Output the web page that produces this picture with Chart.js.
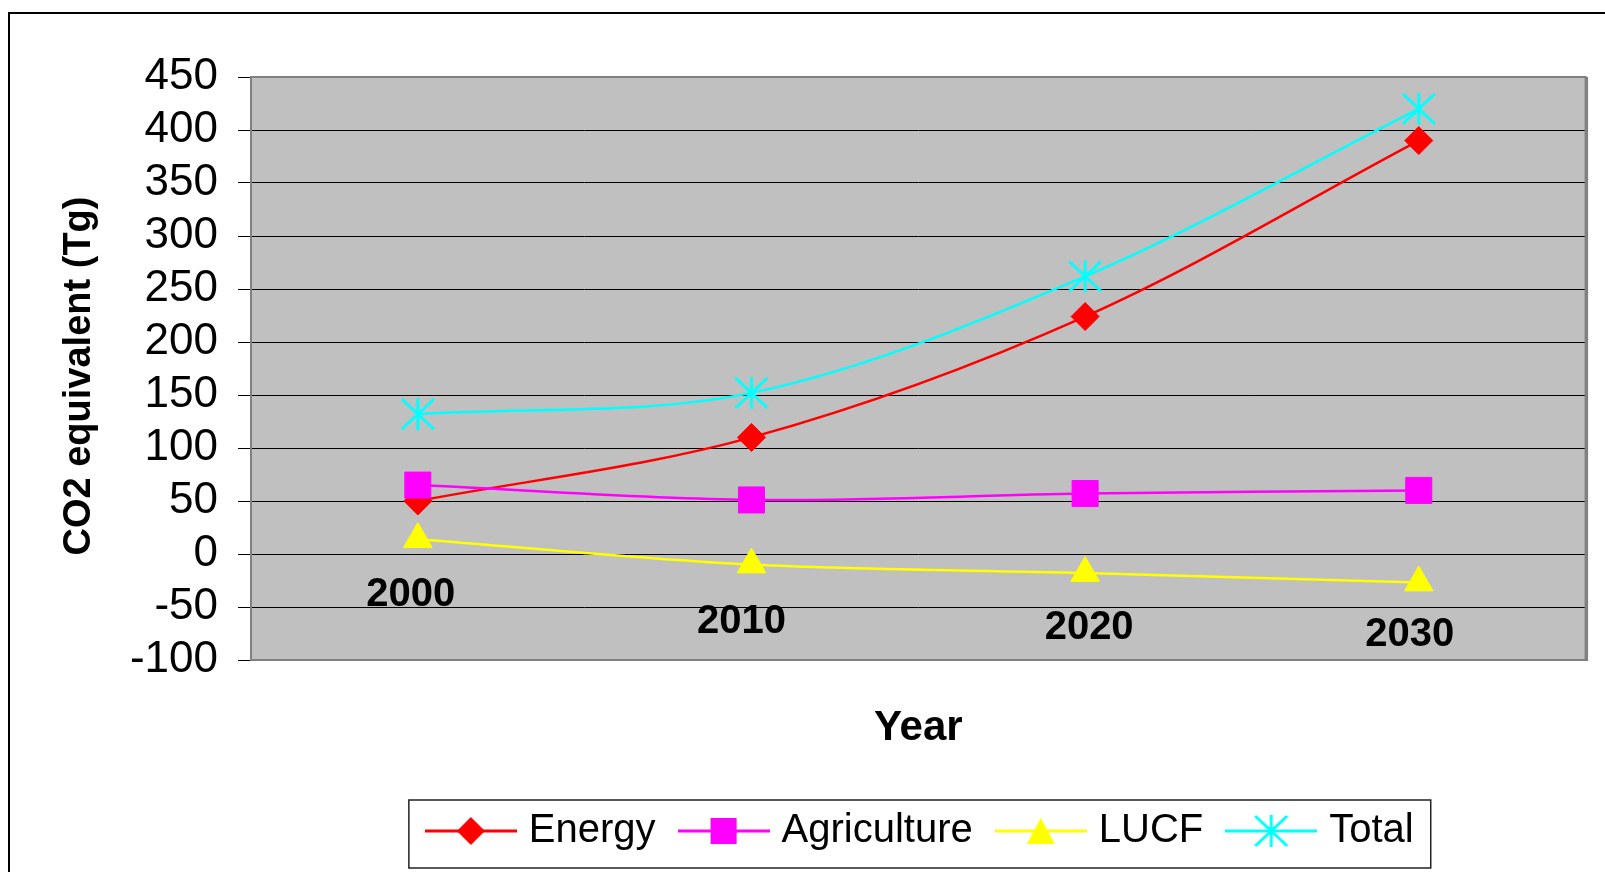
<!DOCTYPE html>
<html>
<head>
<meta charset="utf-8">
<script src="https://cdn.jsdelivr.net/npm/chart.js@4.4.0/dist/chart.umd.min.js"></script>
<style>
html, body { margin: 0; padding: 0; background: #fff; }
</style>
</head>
<body>
<canvas id="lineChart" width="1605" height="872"></canvas>
<script>
// data
var years = ['2000', '2010', '2020', '2030'];
var energy = [50, 110, 224, 390];
var agriculture = [65, 51, 57, 60];
var lucf = [14, -10, -18, -27];
var total = [132, 152, 262, 420];
var yMin = -100, yMax = 450, yStep = 50;
var yTitle = 'CO2 equivalent (Tg)';

var FONT = 'Liberation Sans, Arial, sans-serif';

// year labels sit inside the plot, staggered (value-space heights)
var catLabelAt = [-39, -64, -70, -76];
var catLabelDx = [-7, -10, 4, -9];

function drawMarker(c, type, x, y, color) {
  c.fillStyle = color;
  c.strokeStyle = color;
  c.beginPath();
  if (type === 'diamond') {
    c.moveTo(x, y - 14); c.lineTo(x + 14, y); c.lineTo(x, y + 14); c.lineTo(x - 14, y);
    c.closePath(); c.fill();
  } else if (type === 'square') {
    c.rect(x - 13, y - 13, 26, 26); c.fill();
  } else if (type === 'triangle') {
    c.moveTo(x, y - 13); c.lineTo(x + 14, y + 13); c.lineTo(x - 14, y + 13);
    c.closePath(); c.fill();
  } else if (type === 'star') {
    c.lineWidth = 3;
    c.moveTo(x, y - 16); c.lineTo(x, y + 16);
    c.moveTo(x - 16, y - 15); c.lineTo(x + 16, y + 15);
    c.moveTo(x + 16, y - 15); c.lineTo(x - 16, y + 15);
    c.stroke();
  }
}

function makeIcon(type, color) {
  var cv = document.createElement('canvas');
  cv.width = 92; cv.height = 40;
  var c = cv.getContext('2d');
  c.strokeStyle = color;
  c.lineWidth = 3;
  c.beginPath(); c.moveTo(0, 20); c.lineTo(92, 20); c.stroke();
  drawMarker(c, type, 46, 20, color);
  return cv;
}

var starImg = document.createElement('canvas');
starImg.width = 36; starImg.height = 34;
drawMarker(starImg.getContext('2d'), 'star', 18, 17, '#00FFFF');

var icons = [
  makeIcon('diamond', '#FF0000'),
  makeIcon('square', '#FF00FF'),
  makeIcon('triangle', '#FFFF00'),
  makeIcon('star', '#00FFFF')
];

var decor = {
  id: 'decor',
  afterLayout: function(chart) {
    // nudge legend a little right, like the original
    chart.legend.left += 5;
    chart.legend.right += 5;
  },
  beforeDraw: function(chart) {
    var c = chart.ctx, a = chart.chartArea;
    c.save();
    c.fillStyle = '#fff';
    c.fillRect(0, 0, chart.width, chart.height);
    // outer frame
    c.strokeStyle = '#000';
    c.lineWidth = 2;
    c.beginPath();
    c.moveTo(9, chart.height + 2); c.lineTo(9, 13); c.lineTo(chart.width + 2, 13);
    c.stroke();
    // plot background
    c.fillStyle = '#C0C0C0';
    c.fillRect(a.left, a.top, a.right - a.left, a.bottom - a.top);
    // y axis title
    c.fillStyle = '#000';
    c.font = 'bold 38px ' + FONT;
    c.textAlign = 'center';
    c.textBaseline = 'middle';
    c.translate(80, 376);
    c.rotate(-Math.PI / 2);
    c.fillText(yTitle, 0, 0);
    c.restore();
  },
  beforeDatasetsDraw: function(chart) {
    var c = chart.ctx, xs = chart.scales.x, ys = chart.scales.y;
    c.save();
    c.fillStyle = '#000';
    c.font = 'bold 40px ' + FONT;
    c.textAlign = 'center';
    c.textBaseline = 'middle';
    years.forEach(function(lbl, i) {
      c.fillText(lbl, xs.getPixelForValue(i) + catLabelDx[i], ys.getPixelForValue(catLabelAt[i]));
    });
    c.restore();
  },
  afterDraw: function(chart) {
    var c = chart.ctx, a = chart.chartArea, lg = chart.legend;
    c.save();
    // plot border
    c.strokeStyle = '#808080';
    c.lineWidth = 2;
    c.strokeRect(a.left, a.top, a.right - a.left, a.bottom - a.top);
    c.lineWidth = 3;
    c.beginPath(); c.moveTo(a.right + 1, a.top); c.lineTo(a.right + 1, a.bottom + 1); c.stroke();
    // legend frame
    var pad = lg.options.labels.padding;
    var lw = lg.lineWidths[0];
    var startX = (lg.left + pad + lg.right - lw) / 2;
    var endX = startX + lw - pad;
    var cy = lg.top + pad + 20;
    c.strokeStyle = '#222';
    c.lineWidth = 1.5;
    c.strokeRect(startX - 24, cy - 31, endX - startX + 41, 68);
    c.restore();
  }
};

var ctx = document.getElementById('lineChart').getContext('2d');
var myChart = new Chart(ctx, {
  type: 'line',
  data: {
    labels: years,
    datasets: [{
      label: 'Energy',
      data: energy,
      borderColor: '#FF0000',
      backgroundColor: '#FF0000',
      pointStyle: 'rectRot',
      pointRadius: 14,
      order: 4
    }, {
      label: 'Agriculture',
      data: agriculture,
      borderColor: '#FF00FF',
      backgroundColor: '#FF00FF',
      pointStyle: 'rect',
      pointRadius: 18.4,
      order: 3
    }, {
      label: 'LUCF',
      data: lucf,
      borderColor: '#FFFF00',
      backgroundColor: '#FFFF00',
      pointStyle: 'triangle',
      pointRadius: 16.5,
      order: 2
    }, {
      label: 'Total',
      data: total,
      borderColor: '#00FFFF',
      backgroundColor: '#00FFFF',
      pointStyle: starImg,
      pointRadius: 16,
      order: 1
    }]
  },
  options: {
    responsive: false,
    animation: false,
    events: [],
    elements: {
      line: { borderWidth: 2.5, tension: 0.33 },
      point: { borderWidth: 1 }
    },
    layout: { padding: { left: 10, right: 13, top: 77, bottom: 11 } },
    scales: {
      x: {
        type: 'category',
        offset: true,
        grid: { display: false },
        border: { display: false },
        ticks: { display: false },
        title: {
          display: true,
          text: 'Year',
          color: '#000',
          font: { family: FONT, size: 42, weight: 'bold' },
          padding: { top: 0, bottom: 27 }
        },
        afterFit: function(s) { s.height = 121; }
      },
      y: {
        min: yMin,
        max: yMax,
        grid: { color: '#000', lineWidth: 1, tickLength: 13, drawTicks: true },
        border: { display: false },
        ticks: {
          stepSize: yStep,
          autoSkip: false,
          padding: 20,
          color: '#000',
          font: { family: FONT, size: 44, lineHeight: 1 }
        },
        afterFit: function(s) { s.width = 241; }
      }
    },
    plugins: {
      tooltip: { enabled: false },
      legend: {
        position: 'bottom',
        fullSize: false,
        labels: {
          usePointStyle: true,
          pointStyleWidth: 76,
          padding: 30,
          color: '#000',
          font: { family: FONT, size: 40 },
          sort: function(a, b) { return a.datasetIndex - b.datasetIndex; },
          generateLabels: function(chart) {
            var items = Chart.defaults.plugins.legend.labels.generateLabels(chart);
            items.forEach(function(it) { it.pointStyle = icons[it.datasetIndex]; });
            return items;
          }
        }
      }
    }
  },
  plugins: [decor]
});
</script>
</body>
</html>
